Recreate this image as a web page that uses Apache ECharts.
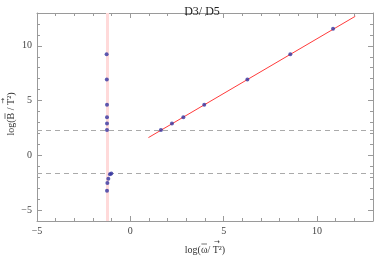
<!DOCTYPE html>
<html><head><meta charset="utf-8">
<script src="https://cdn.jsdelivr.net/npm/echarts@6/dist/echarts.min.js"></script>
<style>html,body{margin:0;padding:0;background:#fff}#c{width:374px;height:259px}</style>
</head><body><div id="c"></div>
<script>
const titleText = "D3/ D5";
// axis label pieces: [before, barred letter, middle, arrowed letter, after]
const xLabelParts = ["log(", "\u03C9", "/ ", "T", "\u00B2)"];
const yLabelParts = ["log(", "B", " / ", "T", "\u00B2)"];
const xTicks = [-5, 0, 5, 10];
const yTicks = [-5, 0, 5, 10];
const clusterX = [-1.27, -1.26, -1.25, -1.25, -1.25, -1.25, -1.02, -1.09, -1.18, -1.23, -1.25];
const clusterY = [9.24, 6.93, 4.61, 3.48, 2.90, 2.32, -1.65, -1.74, -2.13, -2.53, -3.23];
const seqX = [1.64, 2.23, 2.84, 3.96, 6.27, 8.57, 10.86];
const seqY = [2.32, 2.90, 3.48, 4.61, 6.93, 9.24, 11.56];
const fitX = [0.97, 12.05];
const fitY = [1.62, 12.70];
const hLines = [2.33, -1.65];
const vLine = -1.25;

const frame = '#9a9a9a';
const serif = 'Liberation Serif';
const labelFont = '10px "Liberation Serif"';
const fmt = v => (v < 0 ? '\u2212' + Math.abs(v) : String(v));

const mctx = document.createElement('canvas').getContext('2d');
function tw(t, font) { mctx.font = font; return mctx.measureText(t).width; }

function labelGroup(parts, cx, cy, rot) {
  const w = parts.map(p => tw(p, labelFont));
  const W = w.reduce((a, b) => a + b, 0);
  let x = -W / 2;
  const children = [];
  const xs = [];
  parts.forEach((p, i) => {
    xs.push(x);
    children.push({ type: 'text', x: x, y: 0, style: { text: p, font: labelFont, fill: '#333', verticalAlign: 'middle', align: 'left' } });
    x += w[i];
  });
  // bar over second piece
  children.push({ type: 'line', shape: { x1: xs[1] + 0.5, y1: -6, x2: xs[1] + w[1] - 0.5, y2: -6 }, style: { stroke: '#333', lineWidth: 0.7 } });
  // arrow over fourth piece
  children.push({ type: 'text', x: xs[3] + w[3] / 2 + 1, y: -8, style: { text: '\u2192', font: '7px "DejaVu Sans"', fill: '#333', verticalAlign: 'middle', align: 'center' } });
  return { type: 'group', x: cx, y: cy, rotation: rot, children: children };
}

function xa(pos, major, labels) {
  return {
    type: 'value', position: pos, min: -5, max: 13,
    interval: 1,
    axisLine: { show: major, onZero: false, lineStyle: { color: frame, width: 1 } },
    axisTick: major ? { show: true, inside: true, length: 5, customValues: xTicks, lineStyle: { color: frame } }
                    : { show: true, inside: true, length: 3, lineStyle: { color: frame } },
    axisLabel: labels ? { show: true, customValues: xTicks, formatter: fmt, fontFamily: serif, fontSize: 10, color: '#444', margin: 5 } : { show: false },
    splitLine: { show: false }
  };
}
function ya(pos, major, labels) {
  return {
    type: 'value', position: pos, min: -6, max: 13,
    interval: 1,
    axisLine: { show: major, onZero: false, lineStyle: { color: frame, width: 1 } },
    axisTick: major ? { show: true, inside: true, length: 5, customValues: yTicks, lineStyle: { color: frame } }
                    : { show: true, inside: true, length: 3, lineStyle: { color: frame } },
    axisLabel: labels ? { show: true, customValues: yTicks, formatter: fmt, fontFamily: serif, fontSize: 10, color: '#444', margin: 5 } : { show: false },
    splitLine: { show: false }
  };
}

const chart = echarts.init(document.getElementById('c'), null, { renderer: 'canvas' });
chart.setOption({
  animation: false,
  backgroundColor: '#fff',
  title: { text: titleText, left: 197, top: 1, textAlign: 'center',
    textStyle: { fontFamily: serif, fontSize: 12, fontWeight: 'normal', color: '#222' } },
  grid: { left: 37, right: 1, top: 13, bottom: 38, containLabel: false },
  xAxis: [xa('bottom', true, true), xa('bottom', false, false), xa('top', true, false), xa('top', false, false)],
  yAxis: [ya('left', true, true), ya('left', false, false), ya('right', true, false), ya('right', false, false)],
  graphic: [
    labelGroup(xLabelParts, 205, 250, 0),
    labelGroup(yLabelParts, 11, 114, Math.PI / 2)
  ],
  series: [
    {
      type: 'line', xAxisIndex: 0, yAxisIndex: 0, data: [], z: 1,
      markLine: {
        silent: true, symbol: 'none', label: { show: false }, z: 1,
        data: [
          { xAxis: vLine, lineStyle: { color: '#ffdada', width: 3, type: 'solid' } },
          ...hLines.map(v => ({ yAxis: v, lineStyle: { color: '#aaaaaa', width: 1, type: [5, 4] } }))
        ]
      }
    },
    {
      type: 'line', xAxisIndex: 0, yAxisIndex: 0, symbol: 'none', z: 3,
      data: fitX.map((x, i) => [x, fitY[i]]),
      lineStyle: { color: '#ff3b3b', width: 1 }
    },
    {
      type: 'scatter', xAxisIndex: 0, yAxisIndex: 0, symbolSize: 4, z: 5,
      data: clusterX.map((x, i) => [x, clusterY[i]]).concat(seqX.map((x, i) => [x, seqY[i]])),
      itemStyle: { color: '#3535a0' }
    }
  ]
});
</script></body></html>
